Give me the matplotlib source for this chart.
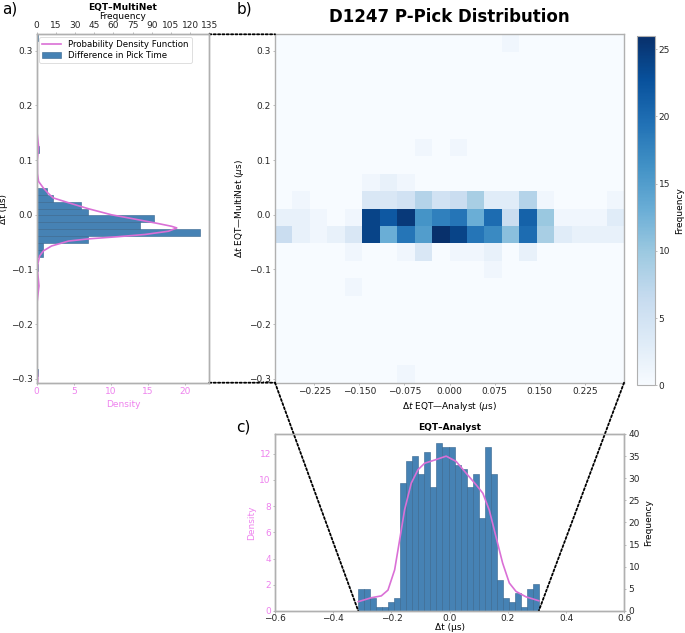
import numpy as np
import matplotlib
matplotlib.use('Agg')
import matplotlib.pyplot as plt
from matplotlib.patches import ConnectionPatch, Patch
from matplotlib.lines import Line2D

plt.rcParams['font.family'] = 'DejaVu Sans'
plt.rcParams['font.size'] = 6.5

BAR = 'steelblue'
BAR_EDGE = '#35648c'
PDF = 'orchid'
PINK = 'violet'
FRAME = '#b0b0b0'
TXT = '#262626'

# ---- heatmap: EQT-Analyst (x) vs EQT-MultiNet (y), 20x20 cells ----
heat_x_range = (-0.29, 0.29)
heat_y_range = (-0.307, 0.33)
# rows listed from top (largest dt) to bottom
heat_rows_top_down = [
    [0, 0, 0, 0, 0, 0, 0, 0, 0, 0, 0, 0, 0, 1, 0, 0, 0, 0, 0, 0],
    [0, 0, 0, 0, 0, 0, 0, 0, 0, 0, 0, 0, 0, 0, 0, 0, 0, 0, 0, 0],
    [0, 0, 0, 0, 0, 0, 0, 0, 0, 0, 0, 0, 0, 0, 0, 0, 0, 0, 0, 0],
    [0, 0, 0, 0, 0, 0, 0, 0, 0, 0, 0, 0, 0, 0, 0, 0, 0, 0, 0, 0],
    [0, 0, 0, 0, 0, 0, 0, 0, 0, 0, 0, 0, 0, 0, 0, 0, 0, 0, 0, 0],
    [0, 0, 0, 0, 0, 0, 0, 0, 0, 0, 0, 0, 0, 0, 0, 0, 0, 0, 0, 0],
    [0, 0, 0, 0, 0, 0, 0, 0, 1, 0, 1, 0, 0, 0, 0, 0, 0, 0, 0, 0],
    [0, 0, 0, 0, 0, 0, 0, 0, 0, 0, 0, 0, 0, 0, 0, 0, 0, 0, 0, 0],
    [0, 0, 0, 0, 0, 1, 2, 1, 0, 0, 0, 0, 0, 0, 0, 0, 0, 0, 0, 0],
    [0, 1, 0, 0, 0, 4, 4, 5, 8, 5, 6, 9, 3, 3, 8, 1, 0, 0, 0, 1],
    [2, 2, 1, 0, 1, 24, 22, 25, 16, 18, 19, 13, 20, 6, 21, 10, 1, 1, 1, 3],
    [6, 2, 1, 2, 4, 24, 13, 19, 15, 26, 24, 19, 17, 11, 20, 9, 3, 2, 2, 2],
    [0, 0, 0, 0, 1, 0, 0, 1, 4, 0, 1, 1, 2, 0, 2, 0, 0, 0, 0, 0],
    [0, 0, 0, 0, 0, 0, 0, 0, 0, 0, 0, 0, 1, 0, 0, 0, 0, 0, 0, 0],
    [0, 0, 0, 0, 1, 0, 0, 0, 0, 0, 0, 0, 0, 0, 0, 0, 0, 0, 0, 0],
    [0, 0, 0, 0, 0, 0, 0, 0, 0, 0, 0, 0, 0, 0, 0, 0, 0, 0, 0, 0],
    [0, 0, 0, 0, 0, 0, 0, 0, 0, 0, 0, 0, 0, 0, 0, 0, 0, 0, 0, 0],
    [0, 0, 0, 0, 0, 0, 0, 0, 0, 0, 0, 0, 0, 0, 0, 0, 0, 0, 0, 0],
    [0, 0, 0, 0, 0, 0, 0, 0, 0, 0, 0, 0, 0, 0, 0, 0, 0, 0, 0, 0],
    [0, 0, 0, 0, 0, 0, 0, 1, 0, 0, 0, 0, 0, 0, 0, 0, 0, 0, 0, 0],
]
heat_vmax = 26

# ---- panel a: EQT-MultiNet histogram (50 bins) ----
multinet_range = (-0.307, 0.33)
multinet_counts = [0, 1, 0, 0, 0, 0, 0, 0, 0, 0,
                   0, 0, 0, 0, 1, 0, 1, 0, 5, 5,
                   40, 128, 81, 92, 40, 35, 13, 8, 0, 0,
                   0, 0, 0, 2, 0, 0, 0, 0, 0, 0,
                   0, 0, 0, 0, 0, 0, 0, 0, 0, 1]
kde_multinet_dt = [0.33, 0.30, 0.20, 0.15, 0.125, 0.10, 0.075, 0.061, 0.049,
                   0.040, 0.031, 0.022, 0.011, 0.0, -0.008, -0.016, -0.021,
                   -0.024, -0.030, -0.036, -0.040, -0.044, -0.048, -0.057,
                   -0.066, -0.075, -0.09, -0.10, -0.13, -0.16, -0.20, -0.28,
                   -0.30, -0.307]
kde_multinet_density = [0.0, 0.02, 0.01, 0.05, 0.25, 0.08, 0.1, 0.25, 0.9,
                        1.5, 2.2, 4.3, 7.0, 10.1, 13.3, 16.4, 18.2,
                        18.9, 17.8, 14.6, 11.0, 7.0, 4.3, 2.0,
                        0.9, 0.4, 0.15, 0.1, 0.3, 0.05, 0.0, 0.05,
                        0.15, 0.1]

# ---- panel c: EQT-Analyst histogram (30 bins) ----
analyst_range = (-0.314, 0.306)
analyst_counts = [5, 5, 3, 1, 1, 2, 3, 29, 34, 35,
                  31, 36, 28, 38, 37, 37, 33, 32, 28, 31,
                  21, 37, 31, 7, 3, 2, 4, 1, 5, 6]
kde_analyst_dt = [-0.314, -0.269, -0.235, -0.212, -0.189, -0.172, -0.155,
                  -0.132, -0.109, -0.086, -0.052, -0.012, 0.022, 0.057,
                  0.091, 0.114, 0.136, 0.159, 0.182, 0.205, 0.228, 0.262,
                  0.306]
kde_analyst_density = [0.71, 1.01, 1.15, 1.59, 3.14, 5.4, 7.7,
                       9.75, 10.77, 11.27, 11.51, 11.81, 11.41, 10.5,
                       9.62, 8.98, 7.7, 5.67, 3.65, 2.13, 1.49, 1.08,
                       0.78]


def style_axes(ax):
    for sp in ax.spines.values():
        sp.set_color(FRAME)
        sp.set_linewidth(1.0)
    ax.tick_params(length=1.5, width=0.6, color=FRAME, labelcolor=TXT,
                   labelsize=6.5, pad=1.5)


fig = plt.figure(figsize=(6.85, 6.33), dpi=100)

# ---------- panel b: heatmap ----------
ax_h = fig.add_axes([0.4015, 0.3954, 0.5095, 0.5504])
heat = np.flipud(np.array(heat_rows_top_down))
xe = np.linspace(*heat_x_range, heat.shape[1] + 1)
ye = np.linspace(*heat_y_range, heat.shape[0] + 1)
mesh = ax_h.pcolormesh(xe, ye, heat, cmap='Blues', vmin=0, vmax=heat_vmax)
ax_h.set_xlim(heat_x_range)
ax_h.set_ylim(heat_y_range)
xt = [-0.225, -0.15, -0.075, 0.0, 0.075, 0.15, 0.225]
ax_h.set_xticks(xt)
ax_h.set_xticklabels([f'{v:.3f}'.replace('-', '\u2212') for v in xt])
ax_h.set_yticks(np.round(np.arange(-0.3, 0.31, 0.1), 1))
ax_h.set_xlabel(r'$\Delta t$ EQT—Analyst ($\mu$s)', labelpad=3)
ax_h.set_ylabel(r'$\Delta t$ EQT—MultiNet ($\mu$s)', labelpad=2)
ax_h.set_title('D1247 P-Pick Distribution', fontsize=12, fontweight='bold', pad=9)
style_axes(ax_h)

cax = fig.add_axes([0.930, 0.3913, 0.0263, 0.5523])
cbar = fig.colorbar(mesh, cax=cax)
cbar.set_ticks([0, 5, 10, 15, 20, 25])
cbar.set_label('Frequency', labelpad=4)
cbar.outline.set_edgecolor(FRAME)
cax.tick_params(length=1.5, width=0.6, color=FRAME, labelcolor=TXT, labelsize=6.5, pad=1)

# ---------- panel a: MultiNet histogram ----------
ax_a = fig.add_axes([0.0536, 0.3954, 0.252, 0.5504])
ax_at = ax_a.twiny()
me = np.linspace(*multinet_range, len(multinet_counts) + 1)
ax_at.hist(me[:-1], bins=me, weights=multinet_counts, orientation='horizontal',
           color=BAR, edgecolor=BAR_EDGE, linewidth=0.4)
ax_a.plot(kde_multinet_density, kde_multinet_dt, color=PDF, lw=1.2)
ax_a.set_zorder(ax_at.get_zorder() + 1)
ax_a.patch.set_visible(False)
ax_a.set_xlim(0, 23.3)
ax_at.set_xlim(0, 135)
ax_a.set_ylim(heat_y_range)
ax_at.set_ylim(heat_y_range)
ax_a.set_xticks([0, 5, 10, 15, 20])
ax_at.set_xticks(np.arange(0, 136, 15))
ax_a.set_yticks(np.round(np.arange(-0.3, 0.31, 0.1), 1))
ax_a.set_ylabel('Δt (μs)')
ax_a.yaxis.set_label_coords(-0.165, 0.5)
ax_a.set_xlabel('Density', color=PINK, labelpad=3)
ax_at.set_xlabel('Frequency', labelpad=1.5)
ax_at.set_title('EQT–MultiNet', fontsize=6.5, fontweight='bold', pad=1.5)
style_axes(ax_a)
style_axes(ax_at)
ax_a.tick_params(axis='x', labelcolor=PINK)
handles = [Line2D([], [], color=PDF, lw=1.2),
           Patch(facecolor=BAR, edgecolor=BAR_EDGE, linewidth=0.4)]
leg = ax_a.legend(handles, ['Probability Density Function', 'Difference in Pick Time'],
                  loc='upper left', fontsize=6.2, frameon=True, borderaxespad=0.3,
                  handlelength=2.2, labelspacing=0.25, borderpad=0.35)
leg.get_frame().set_edgecolor('#d0d0d0')
leg.get_frame().set_linewidth(0.6)

# ---------- panel c: Analyst histogram ----------
ax_c = fig.add_axes([0.4015, 0.0348, 0.5099, 0.2796])
ax_cr = ax_c.twinx()
ae = np.linspace(*analyst_range, len(analyst_counts) + 1)
ax_cr.hist(ae[:-1], bins=ae, weights=analyst_counts, color=BAR,
           edgecolor=BAR_EDGE, linewidth=0.4)
ax_c.plot(kde_analyst_dt, kde_analyst_density, color=PDF, lw=1.2)
ax_c.set_zorder(ax_cr.get_zorder() + 1)
ax_c.patch.set_visible(False)
ax_c.set_xlim(-0.6, 0.6)
ax_c.set_ylim(0, 13.5)
ax_cr.set_ylim(0, 40)
ax_c.set_xticks(np.round(np.arange(-0.6, 0.61, 0.2), 1))
ax_c.set_yticks(np.arange(0, 13, 2))
ax_cr.set_yticks(np.arange(0, 41, 5))
ax_c.set_ylabel('Density', color=PINK, labelpad=2)
ax_cr.set_ylabel('Frequency', labelpad=3)
ax_c.set_title('EQT–Analyst', fontsize=6.5, fontweight='bold', pad=3)
style_axes(ax_c)
style_axes(ax_cr)
ax_c.tick_params(axis='x', pad=0.5)
ax_c.set_xlabel('Δt (μs)', labelpad=0)
ax_c.tick_params(axis='y', labelcolor=PINK)

# ---------- dotted connectors ----------
links = [
    ((1, 1), ax_a.transAxes, (0, 1), ax_h.transAxes),
    ((1, 0), ax_a.transAxes, (0, 0), ax_h.transAxes),
    ((0, 0), ax_h.transAxes, (ae[0], 0), ax_cr.transData),
    ((1, 0), ax_h.transAxes, (ae[-1], 0), ax_cr.transData),
]
for xyA, tA, xyB, tB in links:
    con = ConnectionPatch(xyA=xyA, coordsA=tA, xyB=xyB, coordsB=tB,
                          linestyle=(0, (1.2, 1.2)), color='black', lw=1.3)
    fig.add_artist(con)

# panel letters
fig.text(0.003, 0.998, 'a)', fontsize=11, va='top', ha='left')
fig.text(0.345, 0.998, 'b)', fontsize=11, va='top', ha='left')
fig.text(0.345, 0.338, 'c)', fontsize=11, va='top', ha='left')

fig.savefig('out.png', dpi=100)
